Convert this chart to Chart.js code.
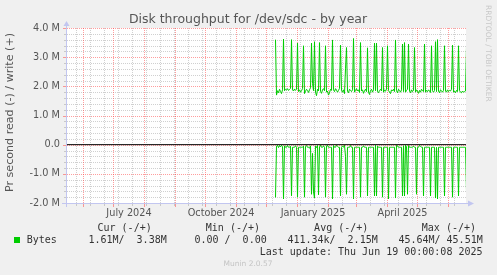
<!DOCTYPE html>
<html><head><meta charset="utf-8">
<script src="https://cdn.jsdelivr.net/npm/chart.js@4.4.1/dist/chart.umd.min.js"></script>
<style>html,body{margin:0;padding:0;background:#f0f0f0;}canvas{display:block}</style>
</head><body>
<canvas id="c" width="497" height="275"></canvas>
<script>
// ---------- data ----------
const titleText = 'Disk throughput for /dev/sdc - by year';
const yAxisTitle = 'Pr second read (-) / write (+)';
const totalDays = 400;              // munin "year" graph spans 400 days (May 15 2024 .. Jun 19 2025)
const firstDataDay = 209;           // first day with samples
const monthStartDays = [17,47,78,109,139,170,200,231,262,290,321,351,382];
const minorGridDays = [10,24,38,52,66,80,94,108,122,136,150,164,178,192,206,220,234,248,276,304,318,332,346,360,374,388];
const monthLabelDays = [62.5,154.5,246.5,336];
const monthLabelTexts = ['July 2024','October 2024','January 2025','April 2025'];
const yMajorTicks = [-2,-1,0,1,2,3,4];   // in M
const yMinorStep = 0.2;

// write (+) in MB/s per day
const writeValues = [
3.60,1.70,1.85,1.78,1.90,1.82,1.75,1.88,3.62,1.85,1.90,1.87,1.92,1.86,1.89,1.93,3.60,1.88,1.84,1.91,
1.86,1.90,3.48,1.82,1.88,1.80,1.85,1.92,3.39,1.75,1.83,1.90,1.86,1.79,1.88,1.95,3.48,2.10,1.85,3.53,
1.80,1.68,1.90,1.84,3.50,1.82,1.76,1.88,1.92,1.85,3.39,1.80,1.84,1.70,1.78,1.90,1.86,3.59,1.88,1.82,
1.92,1.87,1.80,1.86,1.93,3.41,1.85,1.80,1.88,1.75,2.60,3.33,1.84,1.78,1.90,1.86,1.82,1.88,3.64,1.80,
1.86,1.92,1.84,1.88,1.79,3.50,1.84,1.88,1.76,1.85,1.90,1.82,3.32,1.80,1.72,1.86,1.90,1.80,1.88,3.48,
1.85,3.48,1.82,1.78,1.86,1.90,1.84,3.33,1.80,1.88,1.83,1.91,3.39,1.86,1.80,1.75,1.88,1.84,1.90,1.82,
3.59,1.85,1.78,1.90,1.86,1.80,1.88,3.45,1.82,3.50,1.80,1.86,1.90,3.45,1.84,1.78,1.88,1.82,1.86,3.33,
1.80,1.88,1.84,1.76,1.86,1.80,1.90,1.85,1.82,3.45,1.80,1.86,1.82,1.88,1.84,1.79,3.39,1.85,1.80,1.86,
3.53,1.82,3.60,1.84,1.78,1.88,1.85,1.80,1.86,3.39,1.84,1.80,1.88,1.82,1.86,1.84,1.90,3.41,1.80,1.84,
1.78,1.86,1.82,3.39,1.85,1.80,1.78,1.84,1.80,1.82,1.84,3.38];

// read (-) in MB/s per day (magnitudes, plotted below zero)
const readValues = [
1.81,0.05,0.02,0.10,0.03,0.08,0.02,0.06,1.86,0.04,0.09,0.09,0.03,0.09,0.09,0.05,1.75,0.09,0.09,0.09,
0.04,0.09,1.80,0.09,0.09,0.09,0.09,0.09,0.05,1.80,0.06,0.03,0.09,0.09,0.12,0.04,1.70,0.30,1.62,1.83,
0.05,0.10,0.03,1.72,0.08,0.02,0.09,0.09,0.04,0.09,1.80,0.04,0.02,0.09,0.09,0.09,0.09,1.86,0.03,0.09,
0.09,0.02,0.06,0.09,0.09,1.76,0.09,0.04,0.09,0.02,0.40,1.70,0.09,0.09,0.09,0.03,0.09,0.09,1.86,0.09,
0.09,0.09,0.09,0.09,0.09,1.80,0.09,0.09,0.04,0.09,0.09,0.09,1.76,0.09,0.09,0.09,0.09,0.09,0.09,1.76,
0.02,1.76,0.05,0.09,0.09,0.09,0.09,1.80,0.09,0.09,0.09,0.09,0.09,1.86,0.09,0.09,0.09,0.09,0.09,0.09,
1.83,0.02,0.04,0.09,0.09,0.09,0.09,1.76,0.04,1.76,0.02,0.06,1.70,0.03,0.09,0.09,0.09,0.09,0.05,0.09,
0.09,1.70,0.09,0.09,0.02,0.05,0.09,0.09,1.76,0.09,0.09,0.09,0.09,0.09,0.09,1.76,0.09,0.09,0.09,0.09,
1.83,0.09,1.86,0.09,0.09,0.09,0.09,0.09,0.09,1.76,0.09,0.09,0.09,0.09,0.09,0.09,0.09,1.80,0.09,0.09,
0.09,0.09,0.09,1.76,0.09,0.09,0.09,0.09,0.09,0.09,0.09,1.61];

const legendHeaders = ['Cur (-/+)','Min (-/+)','Avg (-/+)','Max (-/+)'];
const legendValues = ['1.61M/  3.38M','0.00 /  0.00','411.34k/  2.15M','45.64M/ 45.51M'];
const seriesName = 'Bytes';
const lastUpdate = 'Last update: Thu Jun 19 00:00:08 2025';
const footer = 'Munin 2.0.57';
const sideText = 'RRDTOOL / TOBI OETIKER';

// ---------- build ----------
const M = 1e6;
const GREEN = '#00cc00';
const writePts = writeValues.map((v,i)=>({x:firstDataDay+i, y:v*M}));
const readPts = readValues.map((v,i)=>({x:firstDataDay+i, y:-v*M}));

const xTicks = [];
minorGridDays.forEach(d=>xTicks.push({value:d, kind:'minor', label:''}));
monthStartDays.forEach(d=>xTicks.push({value:d, kind:'major', label:''}));
monthLabelDays.forEach((d,i)=>xTicks.push({value:d, kind:'label', label:monthLabelTexts[i]}));
xTicks.sort((a,b)=> a.value-b.value || (a.kind==='major'?1:-1));

const yTicks = [];
for (let k = yMajorTicks[0]*5; k <= yMajorTicks[yMajorTicks.length-1]*5; k++) {
  yTicks.push({value: k*yMinorStep*M, major: k%5===0});
}

const MAJ = 'rgba(255,60,60,0.5)';
const MIN = 'rgba(150,150,150,0.45)';
const AXIS = '#c2c6f0';

const decor = {
  id:'decor',
  beforeDraw(chart){
    const {ctx, chartArea:a} = chart;
    ctx.save();
    ctx.fillStyle = '#f0f0f0'; ctx.fillRect(0,0,chart.width,chart.height);
    ctx.fillStyle = '#ffffff'; ctx.fillRect(a.left, a.top, a.right-a.left, a.bottom-a.top);
    ctx.restore();
  },
  beforeDatasetsDraw(chart){
    const {ctx, chartArea:a, scales} = chart;
    const L=Math.round(a.left), R=Math.round(a.right), T=Math.round(a.top), B=Math.round(a.bottom);
    ctx.save();
    // horizontal dotted grid (minor first, major on top)
    [false,true].forEach(maj=>{
      yTicks.filter(t=>t.major===maj).forEach(t=>{
        const py = Math.round(scales.y.getPixelForValue(t.value));
        ctx.fillStyle = maj?MAJ:MIN;
        for(let xx=L+1; xx<R; xx+=2) ctx.fillRect(xx,py,1,1);
        ctx.fillRect(L-(maj?3:2), py, maj?3:2, 1);
      });
    });
    // vertical dotted grid
    ['minor','major'].forEach(kind=>{
      xTicks.filter(t=>t.kind===kind).forEach(t=>{
        const px = Math.floor(scales.x.getPixelForValue(t.value));
        ctx.fillStyle = kind==='major'?MAJ:MIN;
        for(let yy=T; yy<B; yy+=2) ctx.fillRect(px,yy,1,1);
        ctx.fillRect(px, B+1, 1, kind==='major'?3:2);
      });
    });
    ctx.restore();
  },
  afterDraw(chart){
    const {ctx, chartArea:a} = chart;
    ctx.save();
    // axes
    ctx.strokeStyle = AXIS; ctx.fillStyle = AXIS; ctx.lineWidth = 1;
    const ax = Math.round(a.left)+0.5, ay = Math.round(a.bottom)+0.5;
    ctx.beginPath(); ctx.moveTo(ax, a.top-3); ctx.lineTo(ax, a.bottom+4); ctx.stroke();
    ctx.beginPath(); ctx.moveTo(a.left-4, ay); ctx.lineTo(a.right+3, ay); ctx.stroke();
    ctx.beginPath(); ctx.moveTo(ax-3, a.top-2); ctx.lineTo(ax+3, a.top-2); ctx.lineTo(ax, a.top-7); ctx.closePath(); ctx.fill();
    ctx.beginPath(); ctx.moveTo(a.right+2, ay-3); ctx.lineTo(a.right+2, ay+3); ctx.lineTo(a.right+8, ay); ctx.closePath(); ctx.fill();
    // title
    ctx.fillStyle = '#555'; ctx.textAlign='center'; ctx.textBaseline='middle';
    ctx.font = '12.5px "DejaVu Sans"';
    ctx.fillText(titleText, 248, 19.5);
    // y axis title
    ctx.save(); ctx.translate(10.5, 112.5); ctx.rotate(-Math.PI/2);
    ctx.font = '11.1px "DejaVu Sans"'; ctx.fillText(yAxisTitle, 0, 0); ctx.restore();
    // side text
    ctx.save(); ctx.translate(488, 5); ctx.rotate(Math.PI/2);
    ctx.fillStyle = '#c8c8c8'; ctx.textAlign='left'; ctx.font='7.5px "DejaVu Sans"';
    ctx.fillText(sideText, 0, 0); ctx.restore();
    // legend
    ctx.font = '10px "DejaVu Sans Mono"'; ctx.fillStyle='#333'; ctx.textAlign='right';
    const hdrX = [151.7,260,368.3,476];
    const valX = [166.7,266.7,377.7,482.7];
    legendHeaders.forEach((t,i)=>ctx.fillText(t, hdrX[i], 228.5));
    legendValues.forEach((t,i)=>ctx.fillText(t, valX[i], 240));
    ctx.fillText(lastUpdate, 482.5, 252);
    ctx.textAlign='left';
    ctx.fillText(seriesName, 26.7, 240);
    ctx.fillStyle = GREEN; ctx.fillRect(14, 237, 6, 6);
    ctx.fillStyle = '#c4c4c4'; ctx.textAlign='center'; ctx.font='7.5px "DejaVu Sans"';
    ctx.fillText(footer, 248, 264.5);
    ctx.restore();
  }
};

new Chart(document.getElementById('c'), {
  type:'line',
  data:{datasets:[
    {label:'zero', data:[{x:-1,y:0},{x:totalDays+1,y:0}], borderColor:'#000', borderWidth:1, pointRadius:0},
    {label:'write', data:writePts, borderColor:GREEN, borderWidth:1, pointRadius:0, tension:0},
    {label:'read', data:readPts, borderColor:GREEN, borderWidth:1, pointRadius:0, tension:0}
  ]},
  options:{
    responsive:false, animation:false, devicePixelRatio:1,
    layout:{padding:{left:0, right:31, top:28, bottom:52}},
    plugins:{legend:{display:false}, tooltip:{enabled:false}, title:{display:false}},
    scales:{
      x:{type:'linear', min:-0.5, max:totalDays-0.5,
        afterFit(s){ s.height = 20; },
        afterBuildTicks(s){ s.ticks = xTicks.map(t=>({value:t.value})); },
        ticks:{autoSkip:false, maxRotation:0, minRotation:0, padding:2, color:'#555',
          font:{family:'DejaVu Sans', size:9.72},
          callback:(v,i)=> xTicks[i].label},
        grid:{drawTicks:true, tickLength:3, color:'transparent'},
        border:{display:false}
      },
      y:{min:-2*M, max:4*M,
        afterFit(s){ s.width = 66; },
        afterBuildTicks(s){ s.ticks = yTicks.map(t=>({value:t.value})); },
        ticks:{autoSkip:false, padding:3, color:'#555', font:{family:'DejaVu Sans', size:9.72},
          callback:(v,i)=>{ if(!yTicks[i].major) return ''; const m=Math.round(v/M); return m===0?'0.0':m.toFixed(1)+' M'; }},
        grid:{drawTicks:true, tickLength:3, color:'transparent'},
        border:{display:false}
      }
    }
  },
  plugins:[decor]
});
</script>
</body></html>
